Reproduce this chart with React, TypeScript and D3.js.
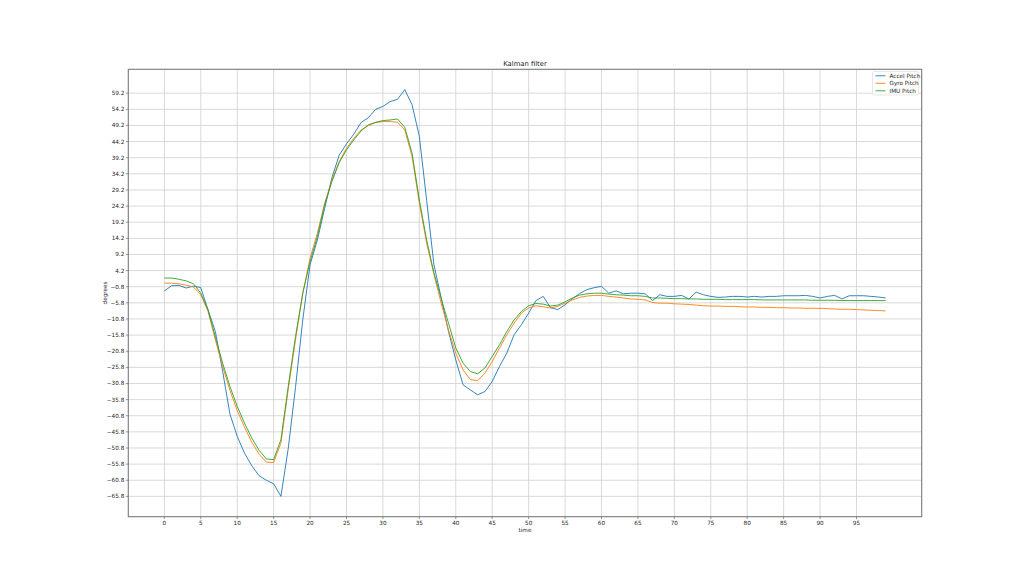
import React from "react";
import * as d3 from "d3";

const accelPitch = [
  -2.1, -0.5, -0.4, -1.2, -0.6, -1.1, -8.0, -14.7, -27.0, -40.3,
  -47.2, -52.4, -56.3, -59.4, -60.8, -61.9, -65.8, -51.0, -32.0, -11.0,
  6.0, 13.7, 23.5, 33.0, 40.0, 43.5, 46.5, 50.1, 51.6, 54.2,
  55.1, 56.6, 57.3, 60.3, 55.6, 45.8, 26.0, 6.0, -4.3, -14.7,
  -23.5, -31.2, -32.8, -34.3, -33.3, -30.2, -25.5, -21.4, -15.7, -12.6,
  -9.0, -5.1, -3.8, -7.3, -7.9, -6.4, -4.5, -2.9, -1.7, -1.1,
  -0.7, -2.8, -2.1, -3.0, -2.8, -2.8, -3.0, -5.1, -3.3, -3.8,
  -3.8, -3.5, -4.6, -2.5, -3.3, -3.8, -4.1, -4.0, -3.8, -3.8,
  -4.0, -3.8, -4.0, -3.8, -3.8, -3.6, -3.6, -3.6, -3.5, -3.8,
  -4.3, -3.8, -3.5, -4.6, -3.6, -3.6, -3.6, -3.8, -4.0, -4.3,
];

const gyroPitch = [
  0.3, 0.3, 0.1, -0.3, -0.9, -3.3, -8.5, -17.3, -25.5, -32.9,
  -39.2, -44.3, -49.0, -52.7, -55.2, -55.3, -49.3, -32.7, -17.3, -2.8,
  8.0, 15.8, 25.1, 32.3, 38.0, 42.1, 45.2, 47.8, 49.1, 50.1,
  50.4, 50.4, 50.2, 47.8, 39.6, 25.1, 12.7, 3.0, -6.0, -14.2,
  -21.4, -26.6, -29.6, -29.9, -27.6, -24.0, -19.8, -15.7, -12.1, -9.0,
  -7.4, -6.7, -7.0, -7.4, -6.9, -5.9, -4.9, -4.1, -3.7, -3.5,
  -3.5, -3.8, -4.0, -4.3, -4.6, -4.7, -4.9, -5.7, -5.9, -5.9,
  -6.1, -6.2, -6.3, -6.5, -6.7, -6.8, -6.8, -6.9, -6.9, -7.0,
  -7.1, -7.1, -7.2, -7.2, -7.3, -7.3, -7.4, -7.4, -7.5, -7.5,
  -7.5, -7.6, -7.7, -7.8, -7.8, -7.9, -8.0, -8.1, -8.2, -8.3,
];

const imuPitch = [
  1.9, 1.9, 1.5, 1.0, 0.1, -2.8, -8.0, -16.4, -24.5, -31.7,
  -37.9, -43.1, -47.7, -51.5, -54.2, -54.4, -48.2, -31.7, -16.2, -2.8,
  7.0, 14.7, 24.6, 31.8, 37.7, 41.6, 44.7, 47.5, 49.4, 50.2,
  50.7, 50.9, 51.2, 48.6, 40.6, 26.1, 13.7, 3.5, -4.5, -12.1,
  -19.8, -24.5, -27.1, -27.8, -26.0, -22.4, -18.8, -14.7, -11.1, -8.5,
  -6.7, -6.0, -6.2, -6.8, -6.5, -5.5, -4.3, -3.4, -3.0, -2.8,
  -2.8, -3.1, -3.3, -3.4, -3.6, -3.6, -3.8, -4.3, -4.3, -4.4,
  -4.5, -4.5, -4.6, -4.6, -4.7, -4.7, -4.7, -4.8, -4.8, -4.8,
  -4.8, -4.8, -4.9, -4.9, -4.9, -4.9, -4.9, -4.9, -4.9, -5.0,
  -5.0, -5.0, -5.0, -5.1, -5.1, -5.1, -5.1, -5.1, -5.1, -5.1,
];

const seriesNames = ["Accel Pitch", "Gyro Pitch", "IMU Pitch"];
const seriesColors = ["#1f77b4", "#ff7f0e", "#2ca02c"];
const xTicks = d3.range(0, 100, 5);
const yTickStart = -65.8;
const yTickCount = 26;
const yTicks = d3.range(yTickCount).map((k) => +(yTickStart + 5 * k).toFixed(1));

const W = 1024;
const H = 581;
const L = 128.3, R = 921.7, T = 69.3, B = 516.7;
const FONT = "DejaVu Sans, sans-serif";
const FS = 5.7;

export default function App() {
  const all = [...accelPitch, ...gyroPitch, ...imuPitch];
  const yMin = d3.min(all) as number;
  const yMax = d3.max(all) as number;
  const yPad = (yMax - yMin) * 0.05;
  const n = accelPitch.length;
  const xPad = (n - 1) * 0.05;
  const x = d3.scaleLinear().domain([-xPad, n - 1 + xPad]).range([L, R]);
  const y = d3.scaleLinear().domain([yMin - yPad, yMax + yPad]).range([B, T]);
  const fmt = d3.format(".1f");
  const line = d3
    .line<number>()
    .x((_, i) => x(i))
    .y((d) => y(d));
  const data = [accelPitch, gyroPitch, imuPitch];

  return (
    <svg
      width={W}
      height={H}
      style={{ position: "absolute", left: 0, top: 0, background: "#fff" }}
      fontFamily={FONT}
    >
      <rect x={0} y={0} width={W} height={H} fill="#fff" />
      <g stroke="#cfcfcf" strokeWidth={0.8}>
        {xTicks.map((t) => (
          <line key={"gx" + t} x1={x(t)} x2={x(t)} y1={T} y2={B} />
        ))}
        {yTicks.map((t) => (
          <line key={"gy" + t} x1={L} x2={R} y1={y(t)} y2={y(t)} />
        ))}
      </g>
      {data.map((d, i) => (
        <path
          key={seriesNames[i]}
          d={line(d) as string}
          fill="none"
          stroke={seriesColors[i]}
          strokeWidth={0.9}
          strokeLinejoin="round"
        />
      ))}
      <rect x={L} y={T} width={R - L} height={B - T} fill="none" stroke="#7a7a7a" strokeWidth={1.1} />
      <g fontSize={FS} fill="#222" textAnchor="middle">
        {xTicks.map((t) => (
          <g key={"xt" + t}>
            <line x1={x(t)} x2={x(t)} y1={B} y2={B + 2.5} stroke="#555" strokeWidth={0.6} />
            <text x={x(t)} y={B + 8.2}>{t}</text>
          </g>
        ))}
      </g>
      <g fontSize={FS} fill="#222" textAnchor="end">
        {yTicks.map((t) => (
          <g key={"yt" + t}>
            <line x1={L - 2.5} x2={L} y1={y(t)} y2={y(t)} stroke="#555" strokeWidth={0.6} />
            <text x={L - 4} y={y(t) + 2}>{fmt(t)}</text>
          </g>
        ))}
      </g>
      <text x={(L + R) / 2} y={66} fontSize={6.8} textAnchor="middle" fill="#222">
        Kalman filter
      </text>
      <text x={(L + R) / 2} y={531.5} fontSize={FS} textAnchor="middle" fill="#222">
        time
      </text>
      <text
        transform={`translate(106.5, ${(T + B) / 2}) rotate(-90)`}
        fontSize={FS}
        textAnchor="middle"
        fill="#222"
      >
        degrees
      </text>
      <g>
        <rect x={872.5} y={71.5} width={46} height={23.5} rx={1.5} fill="#fff" fillOpacity={0.85} stroke="#d6d6d6" strokeWidth={0.6} />
        {seriesNames.map((name, i) => (
          <g key={"lg" + name}>
            <line x1={875.5} x2={885.5} y1={75.8 + i * 7.5} y2={75.8 + i * 7.5} stroke={seriesColors[i]} strokeWidth={0.9} />
            <text x={889.5} y={77.8 + i * 7.5} fontSize={FS} fill="#222">
              {name}
            </text>
          </g>
        ))}
      </g>
    </svg>
  );
}
